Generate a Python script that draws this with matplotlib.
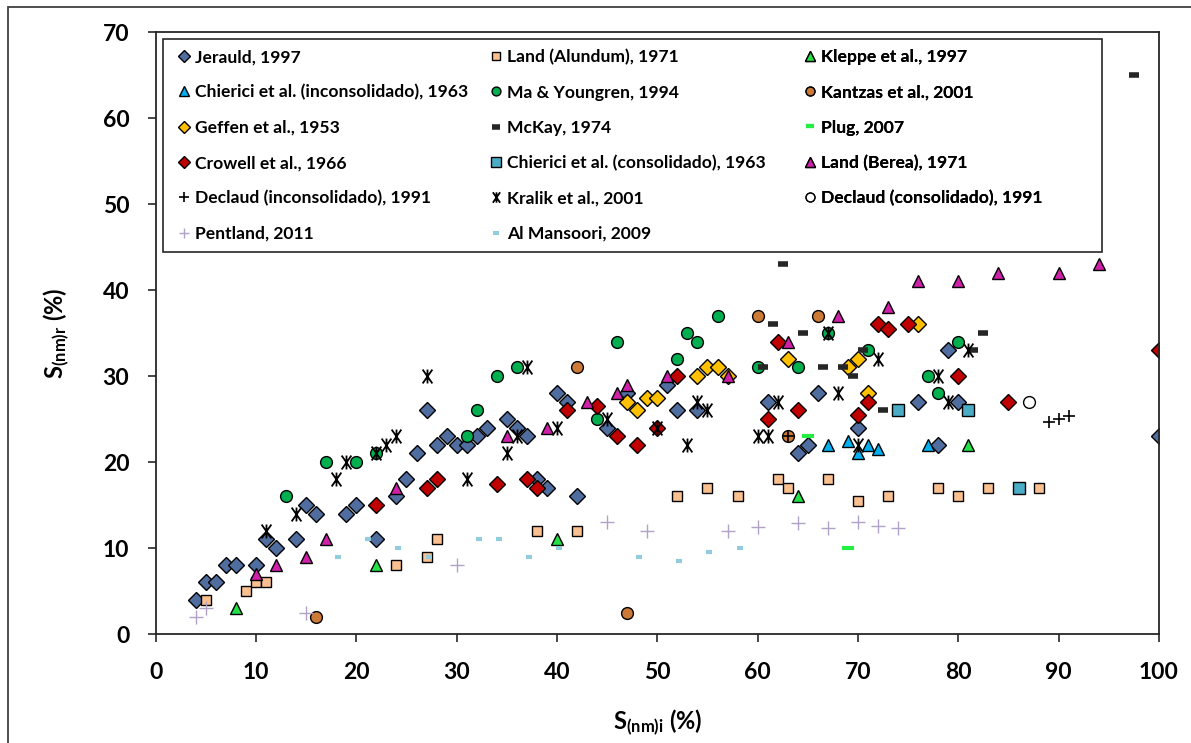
import numpy as np
import matplotlib
matplotlib.use("Agg")
import matplotlib.pyplot as plt
from matplotlib.path import Path
from matplotlib.patches import Rectangle

plt.rcParams['font.family'] = ['Lato', 'DejaVu Sans']
plt.rcParams['font.weight'] = 'bold'
plt.rcParams['mathtext.fontset'] = 'custom'
plt.rcParams['mathtext.rm'] = 'Lato:bold'
plt.rcParams['mathtext.it'] = 'Lato:bold'
plt.rcParams['mathtext.bf'] = 'Lato:bold'

# ---- data (S_nm_i, S_nm_r) in % ----
jerauld_x = [4, 5, 6, 7, 8, 10, 11, 12, 14, 15, 16, 19, 20, 22, 24, 25, 26, 27, 28, 29, 30, 31, 32, 33,
             35, 36, 37, 38, 39, 40, 41, 42, 45, 47, 51, 52, 54, 61, 64, 65, 66, 70, 76, 78, 79, 80, 100]
jerauld_y = [4, 6, 6, 8, 8, 8, 11, 10, 11, 15, 14, 14, 15, 11, 16, 18, 21, 26, 22, 23, 22, 22, 23, 24,
             25, 24, 23, 18, 17, 28, 27, 16, 24, 28, 29, 26, 26, 27, 21, 22, 28, 24, 27, 22, 33, 27, 23]

land_alundum_x = [5, 9, 10, 11, 24, 27, 28, 38, 42, 52, 55, 58, 62, 63, 67, 70, 73, 78, 80, 83, 88]
land_alundum_y = [4, 5, 6, 6, 8, 9, 11, 12, 12, 16, 17, 16, 18, 17, 18, 15.5, 16, 17, 16, 17, 17]

kleppe_x = [8, 22, 40, 64, 81]
kleppe_y = [3, 8, 11, 16, 22]

chierici_inc_x = [67, 69, 70, 71, 72, 77]
chierici_inc_y = [22, 22.5, 21, 22, 21.5, 22]

ma_x = [13, 17, 20, 22, 31, 32, 34, 36, 44, 46, 52, 53, 54, 56, 60, 64, 67, 71, 77, 78, 80]
ma_y = [16, 20, 20, 21, 23, 26, 30, 31, 25, 34, 32, 35, 34, 37, 31, 31, 35, 33, 30, 28, 34]

kantzas_x = [16, 42, 47, 60, 63, 66]
kantzas_y = [2, 31, 2.5, 37, 23, 37]

geffen_x = [47, 48, 49, 50, 54, 55, 56, 57, 63, 69, 70, 71, 76]
geffen_y = [27, 26, 27.5, 27.5, 30, 31, 31, 30, 32, 31, 32, 28, 36]

mckay_x = [60.5, 61.5, 62.5, 64.5, 66.5, 68.5, 69.5, 70.5, 72.5, 81.5, 82.5, 97.5]
mckay_y = [31, 36, 43, 35, 31, 31, 30, 33, 26, 33, 35, 65]

plug_x = [65, 69]
plug_y = [23, 10]

crowell_x = [22, 27, 28, 34, 37, 38, 41, 44, 46, 48, 50, 52, 61, 62, 64, 70, 71, 72, 73, 75, 80, 85, 100]
crowell_y = [15, 17, 18, 17.5, 18, 17, 26, 26.5, 23, 22, 24, 30, 25, 34, 26, 25.5, 27, 36, 35.5, 36, 30, 27, 33]

chierici_con_x = [74, 81, 86]
chierici_con_y = [26, 26, 17]

land_berea_x = [10, 12, 15, 17, 24, 35, 39, 43, 46, 47, 51, 57, 63, 68, 73, 76, 80, 84, 90, 94]
land_berea_y = [7, 8, 9, 11, 17, 23, 24, 27, 28, 29, 30, 30, 34, 37, 38, 41, 41, 42, 42, 43]

declaud_inc_x = [63, 89, 90, 91]
declaud_inc_y = [23, 24.7, 25, 25.4]

kralik_x = [11, 14, 18, 19, 22, 23, 24, 27, 31, 35, 36, 37, 40, 45, 50, 53, 54, 55, 60, 61, 62,
            67, 68, 70, 72, 78, 79, 81]
kralik_y = [12, 14, 18, 20, 21, 22, 23, 30, 18, 21, 23, 31, 24, 25, 24, 22, 27, 26, 23, 23, 27,
            35, 28, 22, 32, 30, 27, 33]

declaud_con_x = [87]
declaud_con_y = [27]

pentland_x = [4, 5, 15, 30, 45, 49, 57, 60, 64, 67, 70, 72, 74]
pentland_y = [2, 3, 2.5, 8, 13, 12, 12, 12.5, 12.9, 12.3, 13, 12.6, 12.3]

mansoori_x = [18.2, 21.2, 24.2, 27.2, 32.2, 34.2, 37.2, 40.2, 48.2, 52.2, 55.2, 58.2]
mansoori_y = [9, 11, 10, 9, 11, 11, 9, 10, 9, 8.5, 9.5, 10]

# Kralik marker: X with a vertical bar
star_path = Path([(-0.7, -1), (0.7, 1), (-0.7, 1), (0.7, -1), (0, -1), (0, 1)],
                 [Path.MOVETO, Path.LINETO, Path.MOVETO, Path.LINETO, Path.MOVETO, Path.LINETO])

fig = plt.figure(figsize=(11.91, 7.43), dpi=100)
ax = fig.add_axes([0.1307, 0.1467, 0.8424, 0.8102])

ek = dict(mec='black', mew=1.0, ls='none')
h = {}
h['Jerauld, 1997'], = ax.plot(jerauld_x, jerauld_y, marker='D', ms=7.8, mfc='#4F6D9E', **ek)
h['Land (Alundum), 1971'], = ax.plot(land_alundum_x, land_alundum_y, marker='s', ms=7.5, mfc='#FAC090', **ek)
h['Kleppe et al., 1997'], = ax.plot(kleppe_x, kleppe_y, marker='^', ms=9, mfc='#22E045', **ek)
h['Chierici et al. (inconsolidado), 1963'], = ax.plot(chierici_inc_x, chierici_inc_y, marker='^', ms=9,
                                                      mfc='#00B0F0', **ek)
h['Ma & Youngren, 1994'], = ax.plot(ma_x, ma_y, marker='o', ms=8.5, mfc='#00B050', **ek)
h['Kantzas et al., 2001'], = ax.plot(kantzas_x, kantzas_y, marker='o', ms=8.5, mfc='#CC7A36', **ek)
h['Geffen et al., 1953'], = ax.plot(geffen_x, geffen_y, marker='D', ms=7.8, mfc='#FFC000', **ek)
h['McKay, 1974'], = ax.plot(mckay_x, mckay_y, marker='_', ms=7.5, mew=4, color='#262626', ls='none')
h['Plug, 2007'], = ax.plot(plug_x, plug_y, marker='_', ms=8.5, mew=3, color='#22EE44', ls='none')
h['Crowell et al., 1966'], = ax.plot(crowell_x, crowell_y, marker='D', ms=7.8, mfc='#C00000', **ek)
h['Chierici et al. (consolidado), 1963'], = ax.plot(chierici_con_x, chierici_con_y, marker='s', ms=9,
                                                    mfc='#4BACC6', **ek)
h['Land (Berea), 1971'], = ax.plot(land_berea_x, land_berea_y, marker='^', ms=9, mfc='#D01FA8', **ek)
h['Declaud (inconsolidado), 1991'], = ax.plot(declaud_inc_x, declaud_inc_y, marker='+', ms=9, mew=1.2,
                                              color='black', ls='none')
h['Kralik et al., 2001'], = ax.plot(kralik_x, kralik_y, marker=star_path, ms=10, mew=1.3, mfc='none',
                                    mec='black', ls='none')
h['Declaud (consolidado), 1991'], = ax.plot(declaud_con_x, declaud_con_y, marker='o', ms=8.5, mfc='white', **ek)
h['Pentland, 2011'], = ax.plot(pentland_x, pentland_y, marker='+', ms=10, mew=1.0, color='#B3A2C7', ls='none')
h['Al Mansoori, 2009'], = ax.plot(mansoori_x, mansoori_y, marker='_', ms=5, mew=3, color='#93CDDD', ls='none')

ax.set_xlim(0, 100)
ax.set_ylim(0, 70)
ax.set_xticks(np.arange(0, 101, 10))
ax.set_yticks(np.arange(0, 71, 10))
ax.tick_params(direction='out', length=6, width=1.2, labelsize=16.5, colors='#262626')
ax.tick_params(axis='y', pad=13)
ax.tick_params(axis='x', pad=14)
for lab in ax.get_xticklabels() + ax.get_yticklabels():
    lab.set_fontweight('bold')
    lab.set_color('black')
for s in ax.spines.values():
    s.set_color('#262626')
    s.set_linewidth(1.3)

ax.set_xlabel('S$_{\\mathrm{(nm)i}}$ (%)', fontsize=17, fontweight='bold', labelpad=18)
ax.set_ylabel('S$_{\\mathrm{(nm)r}}$ (%)', fontsize=17, fontweight='bold', labelpad=22)

# legend: three columns in one framed box
cols = [
    ['Jerauld, 1997', 'Chierici et al. (inconsolidado), 1963', 'Geffen et al., 1953',
     'Crowell et al., 1966', 'Declaud (inconsolidado), 1991', 'Pentland, 2011'],
    ['Land (Alundum), 1971', 'Ma & Youngren, 1994', 'McKay, 1974',
     'Chierici et al. (consolidado), 1963', 'Kralik et al., 2001', 'Al Mansoori, 2009'],
    ['Kleppe et al., 1997', 'Kantzas et al., 2001', 'Plug, 2007',
     'Land (Berea), 1971', 'Declaud (consolidado), 1991'],
]
col_px = [178, 490, 804]


def px2ax(px, py):
    return (px - 155.7) / 1003.3, (634 - py) / 602.0


for names, cx in zip(cols, col_px):
    leg = ax.legend([h[n] for n in names], names, loc='upper left',
                    bbox_to_anchor=px2ax(cx, 49), frameon=False, borderpad=0,
                    borderaxespad=0, handlelength=0.7, handletextpad=0.3,
                    labelspacing=1.1, markerscale=0.75, prop={'size': 12.6, 'weight': 'bold'})
    ax.add_artist(leg)

x0, y0 = px2ax(163, 252)
x1, y1 = px2ax(1102, 39)
ax.add_patch(Rectangle((x0, y0), x1 - x0, y1 - y0, transform=ax.transAxes, fill=False,
                       ec='#262626', lw=1.2, zorder=5))

fig.patches.append(Rectangle((8 / 1191, -0.01), 1.02, 1 - 7 / 743 + 0.01, transform=fig.transFigure,
                             fill=False, ec='#404040', lw=1.3))

fig.savefig('out.png', dpi=100)
